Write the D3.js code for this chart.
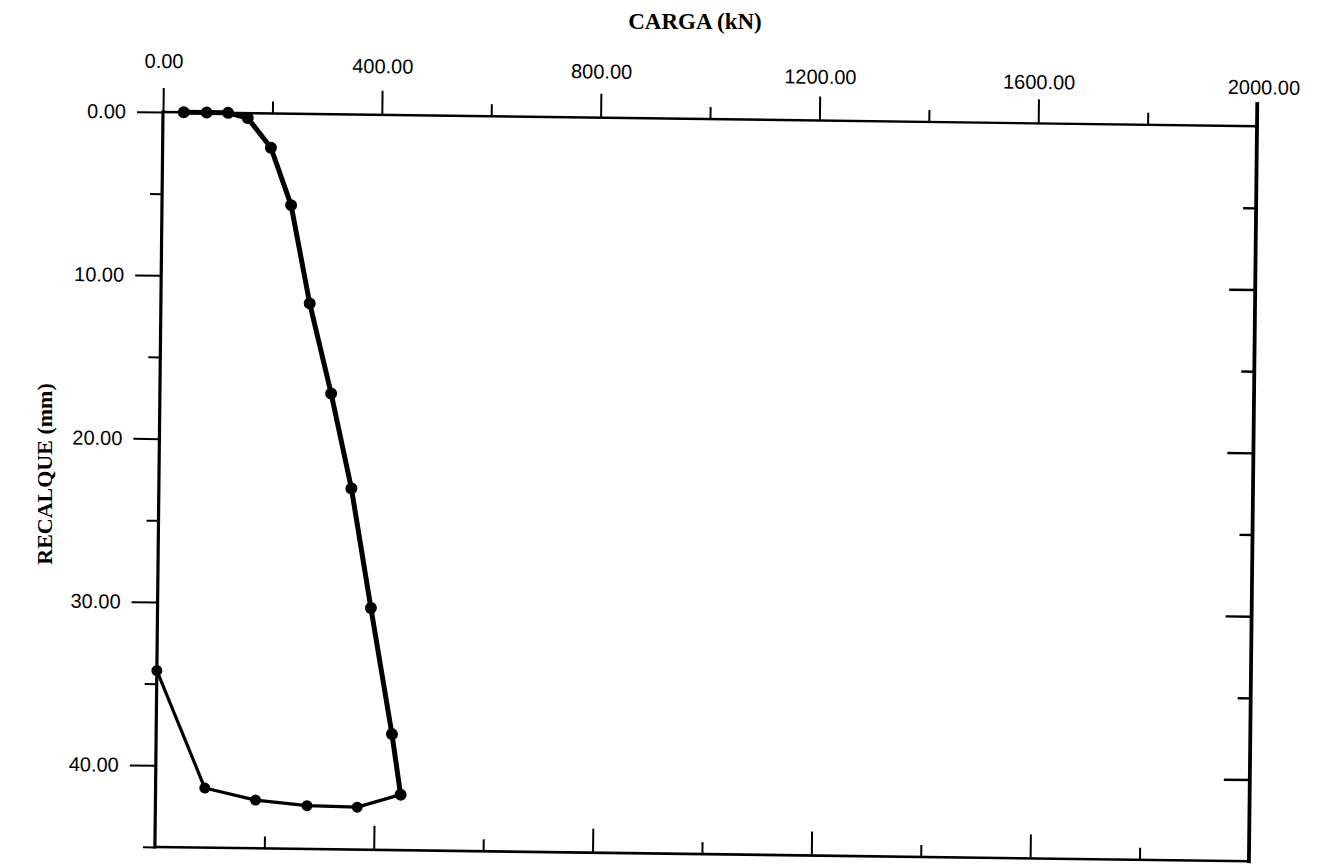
<!DOCTYPE html>
<html>
<head>
<meta charset="utf-8">
<script src="https://cdn.jsdelivr.net/npm/d3@7"></script>
<style>
  body { margin: 0; background: #fff; }
  svg { display: block; }
</style>
</head>
<body>
<svg id="chart" width="1317" height="865"></svg>
<script>
// Load test: load (kN) vs settlement (mm)
const loadKN  = [38, 80, 119, 155, 198, 236, 272, 313, 352, 390, 431, 448];
const loadMM  = [0, 0, 0, 0.3, 2.1, 5.6, 11.6, 17.1, 22.9, 30.2, 37.9, 41.6];
const unloadKN = [448, 369, 277, 183, 90, 0];
const unloadMM = [41.6, 42.4, 42.35, 42.05, 41.35, 34.2];

const xMajor = [0, 400, 800, 1200, 1600, 2000];
const xMinor = [200, 600, 1000, 1400, 1800];
const yMajor = [0, 10, 20, 30, 40];
const yMinor = [5, 15, 25, 35, 45];

const xTitle = "CARGA (kN)";
const yTitle = "RECALQUE (mm)";

const W = 1094, H = 735;
const x = d3.scaleLinear().domain([0, 2000]).range([0, W]);
const y = d3.scaleLinear().domain([0, 45]).range([0, H]);
const fmt = d3.format(".2f");

const svg = d3.select("#chart");
// plot frame, slightly skewed as on the printed sheet
const g = svg.append("g").attr("transform", "matrix(1,0.013,-0.011,1,163,112)");

function styleAxis(sel, w) {
  sel.select(".domain").remove();
  sel.selectAll(".tick line").attr("stroke", "#000").attr("stroke-width", w);
  sel.selectAll(".tick text")
    .attr("fill", "#000")
    .style("font-family", "'Liberation Sans', Arial, sans-serif")
    .style("font-size", "20px");
}

// top axis (labelled); the printed labels drift downward toward the right
g.append("g").call(d3.axisTop(x).tickValues(xMajor).tickSize(24).tickPadding(14).tickFormat(fmt))
  .call(styleAxis, 2)
  .selectAll(".tick text")
  .attr("transform", d => `translate(${d === 2000 ? 6 : 0},${-6 + 0.011 * x(d)})`);
g.append("g").call(d3.axisTop(x).tickValues(xMinor).tickSize(12).tickFormat(""))
  .call(styleAxis, 2);

// left axis (labelled)
g.append("g").call(d3.axisLeft(y).tickValues(yMajor).tickSize(26).tickPadding(11).tickFormat(fmt))
  .call(styleAxis, 2);
g.append("g").call(d3.axisLeft(y).tickValues(yMinor).tickSize(12).tickFormat(""))
  .call(styleAxis, 2);

// right axis, ticks pointing inward
g.append("g").attr("transform", `translate(${W},0)`)
  .call(d3.axisLeft(y).tickValues(yMajor.filter(d => d > 0)).tickSize(26).tickFormat(""))
  .call(styleAxis, 2.4);
g.append("g").attr("transform", `translate(${W},0)`)
  .call(d3.axisLeft(y).tickValues(yMinor.filter(d => d < 45)).tickSize(13).tickFormat(""))
  .call(styleAxis, 2.4);

// bottom axis, ticks pointing inward
g.append("g").attr("transform", `translate(0,${H})`)
  .call(d3.axisTop(x).tickValues(xMajor.filter(d => d > 0 && d < 2000)).tickSize(24).tickFormat(""))
  .call(styleAxis, 2);
g.append("g").attr("transform", `translate(0,${H})`)
  .call(d3.axisTop(x).tickValues(xMinor).tickSize(12).tickFormat(""))
  .call(styleAxis, 2);

// frame lines
const frame = [
  { x1: 0, y1: 0, x2: W, y2: 0, w: 2.4 },
  { x1: 0, y1: 0, x2: 0, y2: H, w: 3.2 },
  { x1: W, y1: -22, x2: W, y2: H, w: 3.8 },
  { x1: 0, y1: H, x2: W, y2: H, w: 2.6 }
];
g.selectAll("line.frame").data(frame).join("line").attr("class", "frame")
  .attr("x1", d => d.x1).attr("y1", d => d.y1)
  .attr("x2", d => d.x2).attr("y2", d => d.y2)
  .attr("stroke", "#000").attr("stroke-width", d => d.w).attr("stroke-linecap", "square");

// series
const loadPts = loadKN.map((v, i) => [v, loadMM[i]]);
const unloadPts = unloadKN.map((v, i) => [v, unloadMM[i]]);
const line = d3.line().x(d => x(d[0])).y(d => y(d[1]));

g.append("path").datum(unloadPts).attr("d", line)
  .attr("fill", "none").attr("stroke", "#000").attr("stroke-width", 3.2).attr("stroke-linejoin", "round");
g.append("path").datum(loadPts).attr("d", line)
  .attr("fill", "none").attr("stroke", "#000").attr("stroke-width", 5).attr("stroke-linejoin", "round");

g.selectAll("circle.load").data(loadPts).join("circle").attr("class", "load")
  .attr("cx", d => x(d[0])).attr("cy", d => y(d[1])).attr("r", 6).attr("fill", "#000");
g.selectAll("circle.unload").data(unloadPts.slice(1)).join("circle").attr("class", "unload")
  .attr("cx", d => x(d[0])).attr("cy", d => y(d[1])).attr("r", 5.5).attr("fill", "#000");

// axis titles
svg.append("text").attr("x", 695).attr("y", 29).attr("text-anchor", "middle")
  .style("font-family", "'Liberation Serif', 'Times New Roman', serif")
  .style("font-weight", "bold").style("font-size", "23px").text(xTitle);
svg.append("text").attr("transform", "translate(52,474) rotate(-90)").attr("text-anchor", "middle")
  .style("font-family", "'Liberation Serif', 'Times New Roman', serif")
  .style("font-weight", "bold").style("font-size", "22px").text(yTitle);
</script>
</body>
</html>
